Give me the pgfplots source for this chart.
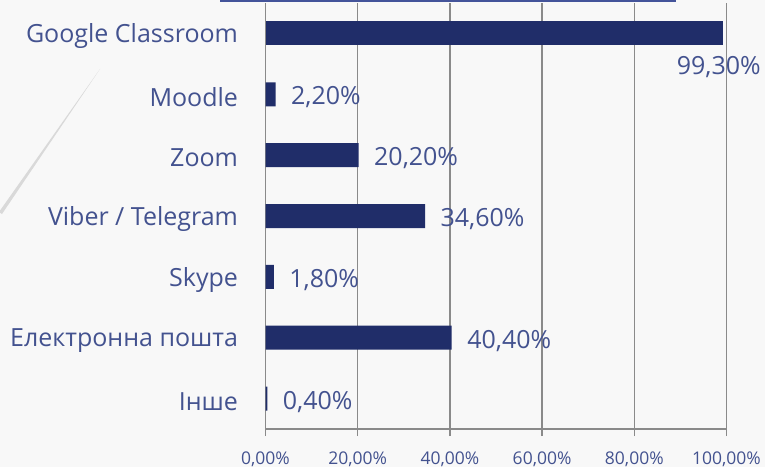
\documentclass[border=0pt]{standalone}
\usepackage{pgfplots}
\pgfplotsset{compat=1.18}
\usepackage{fontspec}
\setmainfont{Open Sans}
\definecolor{bg}{HTML}{F8F8F8}
\definecolor{barc}{HTML}{202D69}
\definecolor{txt}{HTML}{43528F}
\definecolor{gridc}{HTML}{8A8A8A}
\definecolor{topline}{HTML}{44549A}
\begin{document}
\begin{tikzpicture}[x=1pt,y=1pt]
\fill[bg] (0,0) rectangle (765,467);
\fill[topline] (220,464.5) rectangle (676,467);
\fill[black!15] (100,398) -- (2,253) -- (-1,255) -- cycle;
\begin{axis}[
  at={(265.5pt,38pt)}, anchor=south west,
  scale only axis, width=461pt, height=426pt,
  xmin=0, xmax=100, ymin=-0.5, ymax=6.5,
  xbar, bar width=24pt, bar shift=0pt,
  axis x line*=bottom, axis y line*=left,
  axis line style={gridc, line width=1.5pt},
  xmajorgrids, grid style={gridc, line width=1.5pt},
  tick align=outside,
  xtick={0,20,...,100},
  xticklabels={{0,00\%},{20,00\%},{40,00\%},{60,00\%},{80,00\%},{100,00\%}},
  xtick style={gridc, line width=1.5pt},
  major tick length=7pt,
  ytick={0,...,6},
  yticklabels={Інше, Електронна пошта, Skype, Viber / Telegram, Zoom, Moodle, Google Classroom},
  ytick style={draw=none},
  minor ytick={-0.5,0.5,...,6.5},
  minor tick length=10pt,
  minor y tick style={gridc, line width=1.5pt},
  xticklabel style={font=\fontsize{17.5}{21}\selectfont, text=txt, yshift=-12pt},
  yticklabel style={font=\fontsize{25}{30}\selectfont, text=txt, anchor=east, xshift=-17pt, yshift=-3pt},
  point meta=explicit symbolic,
  nodes near coords,
  every node near coord/.append style={font=\fontsize{25}{30}\selectfont, text=txt},
]
\addplot[fill=barc, draw=none, nodes near coords style={anchor=west, xshift=12pt, yshift=-3pt}]
  coordinates {(0.4,0) [{0,40\%}] (40.4,1) [{40,40\%}] (1.8,2) [{1,80\%}] (34.6,3) [{34,60\%}] (20.2,4) [{20,20\%}] (2.2,5) [{2,20\%}]};
\addplot[fill=barc, draw=none, nodes near coords style={anchor=east, xshift=41pt, yshift=-34pt}]
  coordinates {(99.3,6) [{99,30\%}]};
\end{axis}
\pgfresetboundingbox
\useasboundingbox (0,0) rectangle (765,467);
\end{tikzpicture}
\end{document}
